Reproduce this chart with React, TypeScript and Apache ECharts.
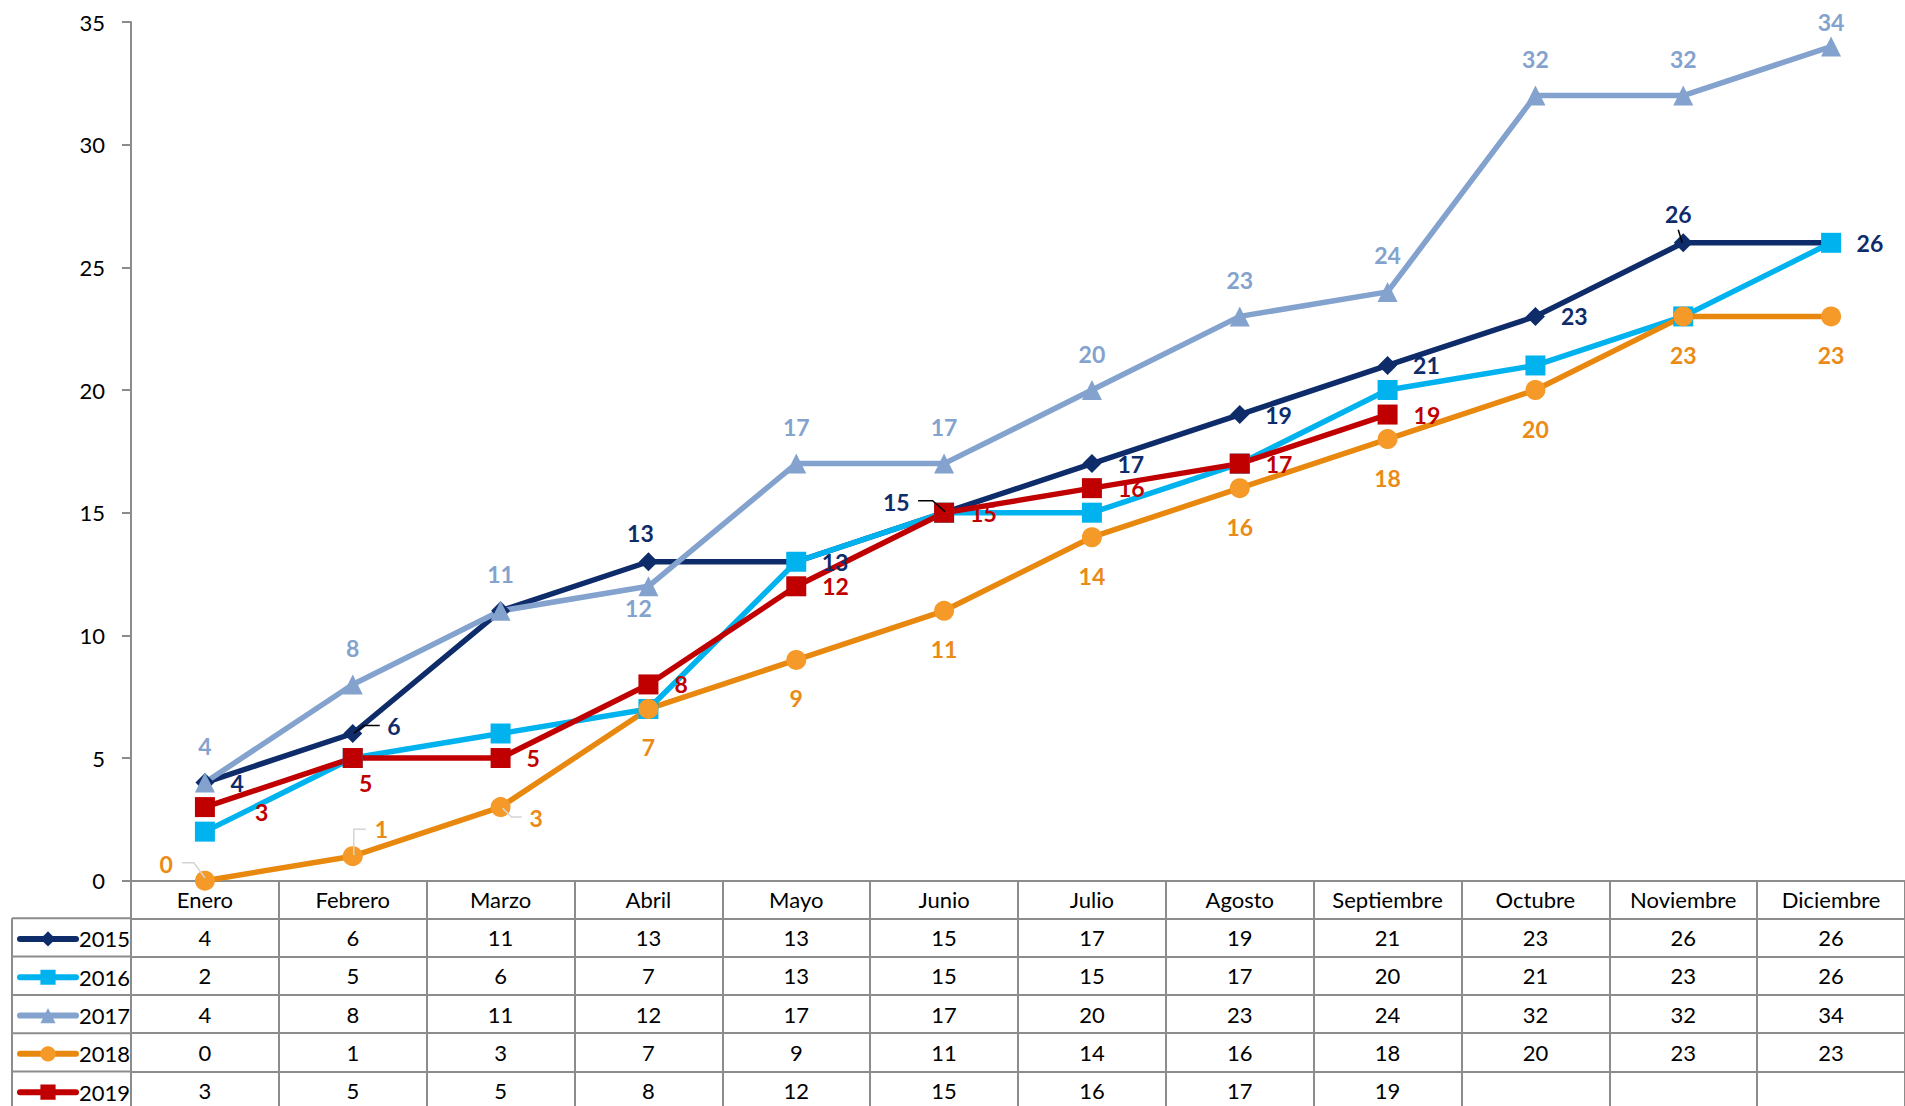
import React, { useEffect, useRef } from "react";
import * as echarts from "echarts";

// ---------- data ----------
const months = ["Enero", "Febrero", "Marzo", "Abril", "Mayo", "Junio", "Julio", "Agosto", "Septiembre", "Octubre", "Noviembre", "Diciembre"];
const years = ["2015", "2016", "2017", "2018", "2019"];
const v2015 = [4, 6, 11, 13, 13, 15, 17, 19, 21, 23, 26, 26];
const v2016 = [2, 5, 6, 7, 13, 15, 15, 17, 20, 21, 23, 26];
const v2017 = [4, 8, 11, 12, 17, 17, 20, 23, 24, 32, 32, 34];
const v2018 = [0, 1, 3, 7, 9, 11, 14, 16, 18, 20, 23, 23];
const v2019 = [3, 5, 5, 8, 12, 15, 16, 17, 19];
const yMin = 0;
const yMax = 35;
const yStep = 5;

// ---------- style ----------
const FONT = "Lato, 'Open Sans', sans-serif";
const FS = 22;
const FS_LABEL = 23;
const W = 1905;
const H = 1106;
const GRID_LEFT = 131;
const GRID_TOP = 22;
const ZERO_Y = 880.7;
const HEADER_H = 37.6;
const ROW_H = 38.3;
const TABLE_LEFT = 12;
const GRAY = "#8C8C8C";

const colors = {
  "2015": { line: "#0F2C6A", mark: "#0F2C6A", text: "#0F2C6A" },
  "2016": { line: "#00B3EF", mark: "#00B3EF", text: "#00B3EF" },
  "2017": { line: "#84A2CE", mark: "#84A2CE", text: "#84A2CE" },
  "2018": { line: "#E9880F", mark: "#F59A28", text: "#EB8A16" },
  "2019": { line: "#C00000", mark: "#C00000", text: "#C00000" },
};
const symbols = {
  "2015": { symbol: "diamond", size: 19 },
  "2016": { symbol: "rect", size: 20 },
  "2017": { symbol: "triangle", size: 20 },
  "2018": { symbol: "circle", size: 20 },
  "2019": { symbol: "rect", size: 20 },
};
const labelDefaults = {
  "2015": { show: true, position: "right", distance: 16 },
  "2016": { show: false },
  "2017": { show: true, position: "top", distance: 15 },
  "2018": { show: true, position: "bottom", distance: 17 },
  "2019": { show: true, position: "right", distance: 16 },
};
const labelOverrides: Record<string, Record<number, any>> = {
  "2015": {
    1: { distance: 25, offset: [0, -7] },
    2: { show: false },
    3: { position: "top", distance: 8, offset: [-8, 0] },
    5: { position: "left", distance: 25, offset: [0, -11] },
    10: { position: "top", distance: 8, offset: [-5, 0] },
  },
  "2016": {},
  "2017": {
    3: { position: "bottom", distance: 0, offset: [-10, 0] },
    11: { distance: 3 },
  },
  "2018": {
    0: { position: "left", distance: 22, offset: [0, -17] },
    1: { position: "right", distance: 12, offset: [0, -27] },
    2: { position: "right", distance: 19, offset: [0, 11] },
  },
  "2019": {
    0: { distance: 40, offset: [0, 5] },
    1: { position: "bottom", distance: 3, offset: [13, 0] },
  },
};
// leader lines: pixel offsets from the point's position
const leaders = [
  { year: "2015", index: 1, pts: [[1, 0], [11, -8], [27, -8]], color: "#000" },
  { year: "2015", index: 5, pts: [[-26, -12], [-11.5, -12], [1, -1]], color: "#000" },
  { year: "2015", index: 10, pts: [[-5, -13], [-1, 0]], color: "#000" },
  { year: "2018", index: 0, pts: [[-23, -18], [-11, -18], [0, -3]], color: "#D4D4D4" },
  { year: "2018", index: 1, pts: [[1, -1], [1, -27], [13, -27]], color: "#D4D4D4" },
  { year: "2018", index: 2, pts: [[2, 1], [11, 10], [21, 10]], color: "#D4D4D4" },
];

const seriesValues: Record<string, number[]> = {
  "2015": v2015,
  "2016": v2016,
  "2017": v2017,
  "2018": v2018,
  "2019": v2019,
};

function baseGraphics() {
  const graphics: any[] = [];
  for (let k = 0; k < years.length; k++) {
    const yy = ZERO_Y + HEADER_H + k * ROW_H;
    graphics.push({
      type: "line",
      shape: { x1: TABLE_LEFT, y1: yy, x2: GRID_LEFT, y2: yy },
      style: { stroke: GRAY, lineWidth: 2 },
      silent: true,
    });
  }
  graphics.push({
    type: "line",
    shape: { x1: TABLE_LEFT, y1: ZERO_Y + HEADER_H, x2: TABLE_LEFT, y2: H },
    style: { stroke: GRAY, lineWidth: 2 },
    silent: true,
  });
  return graphics;
}

function buildOption() {
  const axisLineStyle = { color: GRAY, width: 2 };
  const xAxes: any[] = [
    {
      type: "category",
      gridIndex: 0,
      data: months,
      position: "bottom",
      offset: 0,
      boundaryGap: true,
      axisLine: { show: true, onZero: false, lineStyle: axisLineStyle },
      axisTick: { show: true, inside: false, length: HEADER_H, interval: 0, lineStyle: axisLineStyle },
      axisLabel: {
        interval: 0,
        margin: HEADER_H / 2,
        verticalAlign: "middle",
        color: "#000",
        fontFamily: FONT,
        fontSize: FS,
      },
      splitLine: { show: false },
    },
  ];
  years.forEach((y, k) => {
    const vals = seriesValues[y];
    xAxes.push({
      type: "category",
      gridIndex: 0,
      data: months,
      position: "bottom",
      offset: HEADER_H + k * ROW_H,
      boundaryGap: true,
      axisLine: { show: true, onZero: false, lineStyle: axisLineStyle },
      axisTick: { show: true, inside: false, length: ROW_H, interval: 0, lineStyle: axisLineStyle },
      axisLabel: {
        interval: 0,
        margin: ROW_H / 2,
        verticalAlign: "middle",
        color: "#000",
        fontFamily: FONT,
        fontSize: FS,
        formatter: (_v: string, i: number) => (vals[i] === undefined ? "" : String(vals[i])),
      },
      splitLine: { show: false },
    });
  });

  const series = years.map((y) => {
    const vals = seriesValues[y];
    const c = colors[y as keyof typeof colors];
    const s = symbols[y as keyof typeof symbols];
    const ov = labelOverrides[y];
    return {
      name: y,
      type: "line",
      xAxisIndex: 0,
      yAxisIndex: 0,
      data: vals.map((v, i) => (ov[i] ? { value: v, label: ov[i] } : v)),
      symbol: s.symbol,
      symbolSize: s.size,
      showAllSymbol: true,
      lineStyle: { color: c.line, width: 5.5 },
      itemStyle: { color: c.mark, borderWidth: 0 },
      label: {
        ...labelDefaults[y as keyof typeof labelDefaults],
        color: c.text,
        fontFamily: FONT,
        fontSize: FS_LABEL,
        fontWeight: "bold",
      },
      emphasis: { disabled: true },
      z: 2,
    };
  });

  const legends = years.map((y, k) => ({
    data: [y],
    orient: "horizontal",
    left: 17,
    top: ZERO_Y + HEADER_H + k * ROW_H + (ROW_H - 19) / 2,
    padding: 0,
    itemWidth: 56,
    itemHeight: 19,
    selectedMode: false,
    textStyle: { color: "#000", fontFamily: FONT, fontSize: FS, lineHeight: 19, padding: [0, 0, 0, -2] },
    lineStyle: { width: 6, cap: "round" },
  }));

  return {
    animation: false,
    backgroundColor: "#fff",
    textStyle: { fontFamily: FONT },
    grid: {
      left: GRID_LEFT,
      top: GRID_TOP,
      right: -4,
      bottom: H - ZERO_Y,
      containLabel: false,
    },
    legend: legends,
    xAxis: xAxes,
    yAxis: {
      type: "value",
      min: yMin,
      max: yMax,
      interval: yStep,
      axisLine: { show: true, lineStyle: axisLineStyle },
      axisTick: { show: true, inside: false, length: 9, lineStyle: axisLineStyle },
      axisLabel: { margin: 26, color: "#000", fontFamily: FONT, fontSize: FS },
      splitLine: { show: false },
    },
    graphic: baseGraphics(),
    series,
  };
}

export default function App() {
  const ref = useRef<HTMLDivElement>(null);
  useEffect(() => {
    if (!ref.current) return;
    const chart = echarts.init(ref.current, undefined, { renderer: "svg" });
    chart.setOption(buildOption() as any);
    const leaderGraphics = leaders.map((l) => {
      const v = seriesValues[l.year][l.index];
      const p = chart.convertToPixel({ xAxisIndex: 0, yAxisIndex: 0 }, [l.index, v]) as number[];
      return {
        type: "polyline",
        z: 100,
        silent: true,
        shape: { points: l.pts.map((d) => [p[0] + d[0], p[1] + d[1]]) },
        style: { stroke: l.color, lineWidth: 1.5, fill: null },
      };
    });
    chart.setOption({ graphic: [...baseGraphics(), ...leaderGraphics] } as any);
    return () => chart.dispose();
  }, []);
  return (
    <div
      ref={ref}
      style={{ position: "fixed", left: 0, top: 0, width: W, height: H, background: "#fff" }}
    />
  );
}
